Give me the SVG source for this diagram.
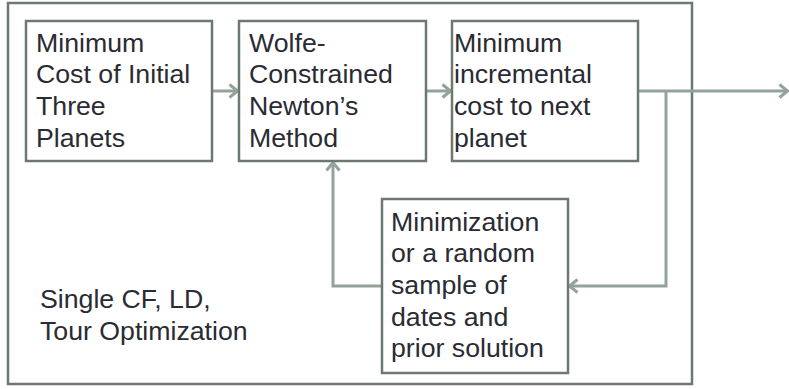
<svg xmlns="http://www.w3.org/2000/svg" width="789" height="389" viewBox="0 0 789 389">
  <style>
    .frame { fill: #ffffff; stroke: #6c7870; stroke-width: 2.5; }
    .box { fill: #ffffff; stroke: #6c7870; stroke-width: 2.5; }
    .label { font-family: "Liberation Sans", Arial, sans-serif; font-size: 26.7px; fill: #2a2b33; }
    .wire { fill: none; stroke: #93a39a; stroke-width: 3; }
  </style>
  <defs>
    <marker id="chev" viewBox="0 0 11 16" refX="10" refY="8" markerWidth="11" markerHeight="16" markerUnits="userSpaceOnUse" orient="auto">
      <path d="M1.5,1.5 L9.5,8 L1.5,14.5" fill="none" stroke="#93a39a" stroke-width="3"/>
    </marker>
  </defs>

  <!-- enclosing frame -->
  <g id="frame">
    <rect class="frame" x="8" y="3" width="684" height="381"/>
    <text class="label" x="40" y="308">Single CF, LD,</text>
    <text class="label" x="40" y="340">Tour Optimization</text>
  </g>

  <!-- connectors -->
  <g id="connectors">
    <line class="wire" x1="213" y1="91" x2="238" y2="91" marker-end="url(#chev)"/>
    <line class="wire" x1="426" y1="91" x2="451" y2="91" marker-end="url(#chev)"/>
    <line class="wire" x1="639" y1="91" x2="788" y2="91" marker-end="url(#chev)"/>
    <polyline class="wire" points="666,91 666,286 569,286" marker-end="url(#chev)"/>
    <polyline class="wire" points="381,286 333,286 333,162" marker-end="url(#chev)"/>
  </g>

  <g id="node-initial">
    <rect class="box" x="26" y="21" width="186" height="140"/>
    <text class="label" x="36" y="52">Minimum</text>
    <text class="label" x="36" y="83">Cost of Initial</text>
    <text class="label" x="36" y="115">Three</text>
    <text class="label" x="36" y="147">Planets</text>
  </g>

  <g id="node-newton">
    <rect class="box" x="239" y="21" width="187" height="140"/>
    <text class="label" x="249" y="52">Wolfe-</text>
    <text class="label" x="249" y="83">Constrained</text>
    <text class="label" x="249" y="115">Newton’s</text>
    <text class="label" x="249" y="147">Method</text>
  </g>

  <g id="node-incremental">
    <rect class="box" x="452" y="21" width="186" height="140"/>
    <text class="label" x="454" y="52">Minimum</text>
    <text class="label" x="454" y="83">incremental</text>
    <text class="label" x="454" y="115">cost to next</text>
    <text class="label" x="454" y="147">planet</text>
  </g>

  <g id="node-sampling">
    <rect class="box" x="382" y="199" width="186" height="174"/>
    <text class="label" x="391" y="231">Minimization</text>
    <text class="label" x="391" y="262">or a random</text>
    <text class="label" x="391" y="294">sample of</text>
    <text class="label" x="391" y="326">dates and</text>
    <text class="label" x="391" y="357">prior solution</text>
  </g>
</svg>
